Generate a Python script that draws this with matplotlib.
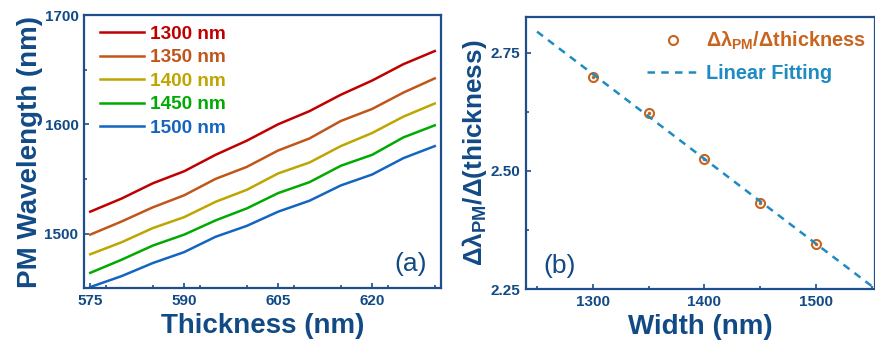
import numpy as np
import matplotlib.pyplot as plt
from matplotlib.ticker import MultipleLocator

plt.rcParams['font.family'] = ['Liberation Sans', 'DejaVu Sans']
plt.rcParams['mathtext.fontset'] = 'custom'
plt.rcParams['mathtext.bf'] = 'Liberation Sans:bold'
plt.rcParams['mathtext.rm'] = 'Liberation Sans'

# panel (a): phase-matching wavelength vs thickness for each width
thickness = [575, 580, 585, 590, 595, 600, 605, 610, 615, 620, 625, 630]
pm_1300 = [1520, 1532, 1546, 1557, 1572, 1585, 1600, 1612, 1627, 1640, 1655, 1667]
pm_1350 = [1499, 1511, 1524, 1535, 1550, 1561, 1576, 1587, 1603, 1614, 1629, 1642]
pm_1400 = [1481, 1492, 1505, 1515, 1529, 1540, 1555, 1565, 1580, 1592, 1607, 1619]
pm_1450 = [1464, 1476, 1489, 1499, 1512, 1523, 1537, 1547, 1562, 1572, 1588, 1599]
pm_1500 = [1451, 1461, 1473, 1483, 1497, 1507, 1520, 1530, 1544, 1554, 1569, 1580]
width_labels = ['1300 nm', '1350 nm', '1400 nm', '1450 nm', '1500 nm']
line_colors = ['#C00000', '#C0561A', '#BFA500', '#00AA00', '#1565C0']

# panel (b): slope vs width
widths = [1300, 1350, 1400, 1450, 1500]
slopes = [2.699, 2.623, 2.526, 2.433, 2.346]
fit_range = [1250, 1550]

navy = '#124A86'
spine_col = '#1F4E8C'

fig = plt.figure(figsize=(8.75, 3.41), dpi=100)
ax1 = fig.add_axes([0.096, 0.155, 0.408, 0.801])
ax2 = fig.add_axes([0.601, 0.152, 0.399, 0.798])

for ax in (ax1, ax2):
    for sp in ax.spines.values():
        sp.set_color(spine_col)
        sp.set_linewidth(1.6)
    ax.tick_params(which='both', direction='in', color=spine_col, width=1.2,
                   labelcolor=navy, labelsize=11, top=False, right=False)
    ax.tick_params(which='major', length=3.5, pad=4)
    ax.tick_params(which='minor', length=2.5)

# ---- panel (a)
series = [pm_1300, pm_1350, pm_1400, pm_1450, pm_1500]
for vals, lab, col in zip(series, width_labels, line_colors):
    ax1.plot(thickness, vals, color=col, lw=1.8, label=lab)

ax1.set_xlim(574, 631)
ax1.set_ylim(1450, 1700)
ax1.xaxis.set_minor_locator(MultipleLocator(7.5))
ax1.yaxis.set_major_locator(MultipleLocator(100))
ax1.yaxis.set_minor_locator(MultipleLocator(50))
ax1.set_xticks([575, 590, 605, 620])
for lab in ax1.get_xticklabels() + ax1.get_yticklabels():
    lab.set_fontweight('bold')
ax1.set_xlabel('Thickness (nm)', fontsize=20, fontweight='bold', color=navy, labelpad=4)
ax1.set_ylabel('PM Wavelength (nm)', fontsize=20, fontweight='bold', color=navy, labelpad=1)
leg1 = ax1.legend(loc='upper left', bbox_to_anchor=(0.0, 1.02), frameon=False,
                  handlelength=2.3, handletextpad=0.3, labelspacing=0.32,
                  borderaxespad=0.6, borderpad=0.25, labelcolor='linecolor',
                  prop={'weight': 'bold', 'size': 13.7})
ax1.text(0.96, 0.045, '(a)', transform=ax1.transAxes, fontsize=19, color=navy,
         ha='right', va='bottom')

# ---- panel (b)
coef = np.polyfit(widths, slopes, 1)
fit_y = np.polyval(coef, fit_range)
pts, = ax2.plot(widths, slopes, 'o', ms=6.5, mfc='none', mec='#C8641E', mew=1.5,
                label=r'Δλ$_{\mathbf{PM}}$/Δthickness')
ax2.plot(widths, slopes, 'o', ms=1.5, color='#C8641E')
fit, = ax2.plot(fit_range, fit_y, '--', color='#1E8BC3', lw=1.8, dashes=(3, 2.5),
                label='Linear Fitting')
ax2.set_xlim(1240, 1553)
ax2.set_ylim(2.25, 2.825)
ax2.xaxis.set_major_locator(MultipleLocator(100))
ax2.xaxis.set_minor_locator(MultipleLocator(50))
ax2.yaxis.set_minor_locator(MultipleLocator(0.125))
ax2.set_yticks([2.25, 2.50, 2.75])
ax2.set_yticklabels(['2.25', '2.50', '2.75'])
for lab in ax2.get_xticklabels() + ax2.get_yticklabels():
    lab.set_fontweight('bold')
ax2.set_xlabel('Width (nm)', fontsize=20, fontweight='bold', color=navy, labelpad=4)
ax2.set_ylabel(r'Δλ$_{\mathbf{PM}}$/Δ(thickness)', fontsize=18.8, fontweight='bold',
               color=navy, labelpad=1)
leg2 = ax2.legend([pts, fit], [pts.get_label(), fit.get_label()], loc='upper right',
                  bbox_to_anchor=(1.0, 0.985), frameon=False, handlelength=2.6,
                  handletextpad=0.4, labelspacing=0.6, borderaxespad=0.05,
                  prop={'weight': 'bold', 'size': 14.3})
leg2.get_texts()[0].set_color('#C8641E')
leg2.get_texts()[1].set_color('#1E8BC3')
ax2.text(0.05, 0.04, '(b)', transform=ax2.transAxes, fontsize=19, color=navy,
         ha='left', va='bottom')

fig.savefig('out.png', dpi=100)
